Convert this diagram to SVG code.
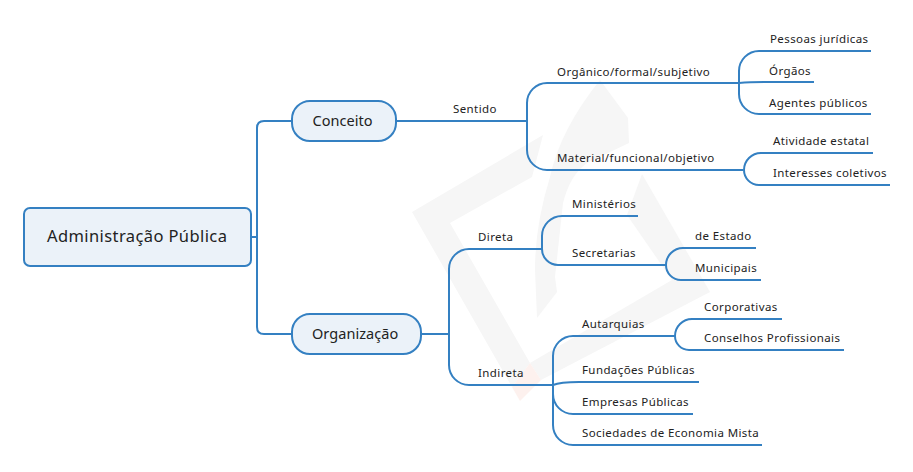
<svg xmlns="http://www.w3.org/2000/svg" width="913" height="472" viewBox="0 0 913 472">
<style>
text{font-family:"Noto Sans","Open Sans","Liberation Sans",sans-serif;fill:#222;font-size:11.5px;letter-spacing:.4px}
.n{fill:#ebf2f9;stroke:#3480c2;stroke-width:2}
.c{fill:none;stroke:#3480c2;stroke-width:2}
.t{font-size:14.5px;letter-spacing:.05px}
.r{font-size:16.5px}
</style>
<rect width="913" height="472" fill="#fff"/>
<g id="watermark" fill="#f6f6f6">
<path d="M412 212L543 135L532 177L450 223L530 363L512 387Z"/>
<path d="M600 80Q560 130 550 177Q535 225 535 270L537 318L557 292L555 277L563 203Q570 175 587 163L629 143L628 118Z"/>
<path d="M642 174L710 292L541 380L530 363L672 280L627 215Z"/>
<path d="M530 363L541 380L520 401L512 387Z" fill="#fdf1ee"/>
</g>
<g id="connectors">
<path class="c" d="M251 237H257M257 237V128Q257 121 264 121H292M257 237V327Q257 334 264 334H292"/>
<path class="c" d="M396 121H527"/>
<path class="c" d="M527 121V103A20 20 0 0 1 547 83H739M527 121V150A20 20 0 0 0 547 170H743"/>
<path class="c" d="M739 83V71A20 20 0 0 1 759 51H871M739 83Q750 82 765 82H814M739 83V94A20 20 0 0 0 759 114H871"/>
<path class="c" d="M744 170A17 17 0 0 1 761 153H873M744 170A15 15 0 0 0 759 185H890"/>
<path class="c" d="M421 334H449M449 334V269A20 20 0 0 1 469 249H542M449 334V365A20 20 0 0 0 469 385H553"/>
<path class="c" d="M542 249V236A20 20 0 0 1 562 216H638M542 249A16 16 0 0 0 558 265H666"/>
<path class="c" d="M666 265A17 17 0 0 1 683 248H756M666 265A15 15 0 0 0 681 280H761"/>
<path class="c" d="M553 385V356A20 20 0 0 1 573 336H675M553 385Q560 382 579 382H699M553 385V394A20 20 0 0 0 573 414H693M553 385V425A20 20 0 0 0 573 445H762"/>
<path class="c" d="M675 336A17 17 0 0 1 692 319H782M675 336A14 14 0 0 0 689 350H844"/>
</g>
<g id="root"><rect class="n" x="24" y="208" width="227" height="58" rx="6"/><text class="r" x="47" y="242">Administração Pública</text></g>
<g id="conceito"><rect class="n" x="292" y="101" width="104" height="40" rx="18"/><text class="t" x="312.5" y="126">Conceito</text></g>
<g id="organizacao"><rect class="n" x="292" y="314" width="129" height="40" rx="18"/><text class="t" x="312" y="339">Organização</text></g>
<g id="labels">
<text x="453" y="113">Sentido</text>
<text x="557" y="76">Orgânico/formal/subjetivo</text>
<text x="557" y="162">Material/funcional/objetivo</text>
<text x="770" y="43">Pessoas jurídicas</text>
<text x="769" y="75">Órgãos</text>
<text x="769" y="107">Agentes públicos</text>
<text x="773" y="145">Atividade estatal</text>
<text x="773" y="177">Interesses coletivos</text>
<text x="478" y="241">Direta</text>
<text x="478" y="377">Indireta</text>
<text x="572" y="208">Ministérios</text>
<text x="572" y="257">Secretarias</text>
<text x="695" y="240">de Estado</text>
<text x="695" y="272">Municipais</text>
<text x="582" y="328">Autarquias</text>
<text x="704" y="311">Corporativas</text>
<text x="704" y="342">Conselhos Profissionais</text>
<text x="582" y="374">Fundações Públicas</text>
<text x="582" y="406">Empresas Públicas</text>
<text x="582" y="437">Sociedades de Economia Mista</text>
</g>
</svg>
